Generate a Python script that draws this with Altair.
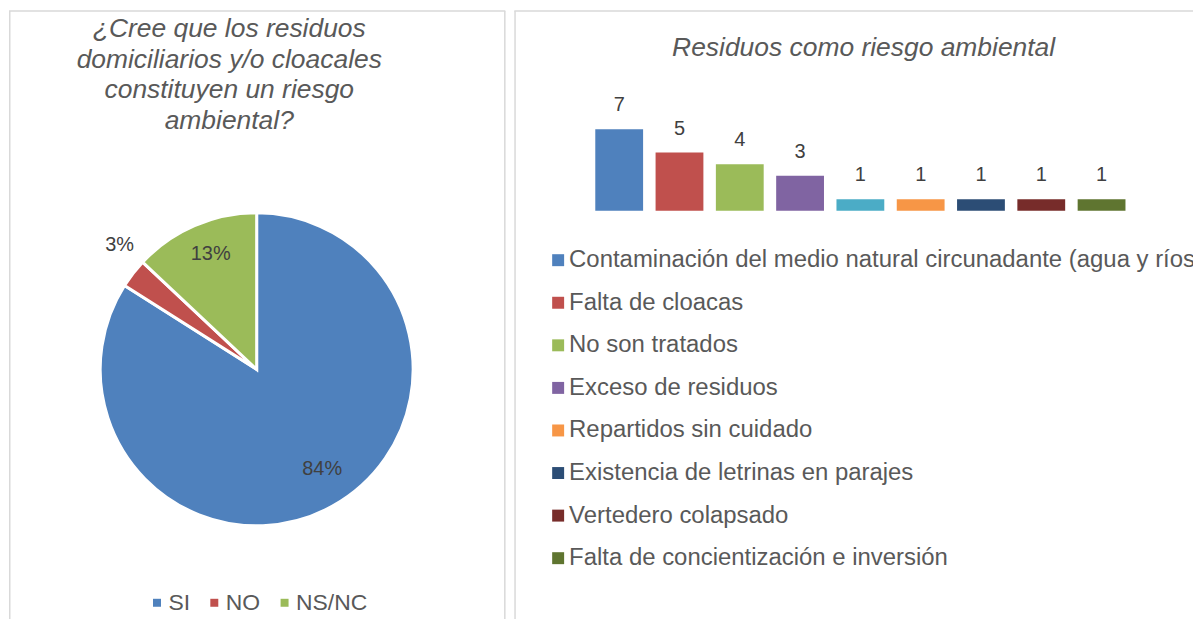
import altair as alt
import pandas as pd

FONT = "Liberation Sans"

# ---------- Panel 1: pie ----------
pie_cats = ["SI", "NO", "NS/NC"]
pie_vals = [84, 3, 13]
pie_colors = ["#4F81BD", "#C0504D", "#9BBB59"]
pie_title = ["¿Cree que los residuos", "domiciliarios y/o cloacales",
             "constituyen un riesgo", "ambiental?"]

# ---------- Panel 2: bars ----------
bar_cats = [
    "Contaminación del medio natural circunadante (agua y ríos)",
    "Falta de cloacas",
    "No son tratados",
    "Exceso de residuos",
    "Otros",
    "Repartidos sin cuidado",
    "Existencia de letrinas en parajes",
    "Vertedero colapsado",
    "Falta de concientización e inversión",
]
bar_vals = [7, 5, 4, 3, 1, 1, 1, 1, 1]
bar_colors = ["#4F81BD", "#C0504D", "#9BBB59", "#8064A2", "#4BACC6",
              "#F79646", "#2C4D75", "#772C2A", "#5F7530"]
legend_cats = [c for c in bar_cats if c != "Otros"]
bar_title = "Residuos como riesgo ambiental"

BORDER = "#D9D9D9"
W1, W2, H = 498, 681, 612
NOVIEW = alt.ViewBackground(stroke="transparent", strokeWidth=0)


def vline(x, y1, y2):
    return alt.Chart(alt.Data(values=[{"k": 0}])).mark_rule(
        color=BORDER, strokeWidth=1.5).encode(
        x=alt.value(x), y=alt.value(y1), y2=alt.value(y2))


def hline(y, x1, x2):
    return alt.Chart(alt.Data(values=[{"k": 0}])).mark_rule(
        color=BORDER, strokeWidth=1.5).encode(
        y=alt.value(y), x=alt.value(x1), x2=alt.value(x2))


# ----- pie panel -----
pie_df = pd.DataFrame({"cat": pie_cats, "valor": pie_vals, "idx": list(range(len(pie_cats)))})
base1 = alt.Chart(pie_df).transform_calculate(etiqueta="datum.valor + '%'")
CX, CY = 248.5, 361.5
theta1 = alt.Theta("valor:Q", stack=True)
order1 = alt.Order("idx:Q")
color1 = alt.Color(
    "cat:N", sort=pie_cats,
    scale=alt.Scale(domain=pie_cats, range=pie_colors),
    legend=alt.Legend(orient="none", direction="horizontal", legendX=137, legendY=584,
                      symbolType="square", symbolSize=64, symbolStrokeWidth=0,
                      labelFontSize=23, labelColor="#595959", labelFont=FONT,
                      labelOffset=0, columnPadding=12.5, padding=0, title=None))

arc = base1.mark_arc(outerRadius=157, stroke="white", strokeWidth=3).encode(
    theta=theta1, color=color1, order=order1, x=alt.value(CX), y=alt.value(CY))


def pie_label(cat, radius, dx, dy):
    return base1.mark_text(radius=radius, dx=dx, dy=dy, fontSize=20, font=FONT,
                           color="#404040", align="center", baseline="middle").encode(
        theta=theta1, order=order1, x=alt.value(CX), y=alt.value(CY),
        text=alt.condition(f"datum.cat == '{cat}'", "etiqueta:N", alt.value("")))


title1 = alt.Chart(alt.Data(values=[{"k": 0}])).mark_text(
    font=FONT, fontSize=26.5, fontStyle="italic", color="#595959", align="center",
    baseline="alphabetic", lineHeight=30.5).encode(
    x=alt.value(221), y=alt.value(28.5), text=alt.value(pie_title))

panel1 = alt.layer(
    vline(0.75, 2, H), vline(W1 - 0.5, 2, H), hline(2, 0, W1),
    arc,
    pie_label("SI", 122, 7, -7),
    pie_label("NS/NC", 125, 3.5, -1),
    pie_label("NO", 185, 8.6, -11),
    title1,
).properties(width=W1, height=H, view=NOVIEW)

# ----- bar panel -----
bar_df = pd.DataFrame({"cat": bar_cats, "valor": bar_vals})
color2 = alt.Color("cat:N", scale=alt.Scale(domain=bar_cats, range=bar_colors), legend=None)
xenc = alt.X("cat:N", sort=bar_cats, axis=None,
             scale=alt.Scale(range=[75, 619.5], paddingInner=0.207, paddingOuter=0.1035))
yenc = alt.Y("valor:Q", axis=None, scale=alt.Scale(domain=[0, 7], range=[202.5, 120.5]))

bars = alt.Chart(bar_df).mark_bar().encode(x=xenc, y=yenc, color=color2)
bar_labels = alt.Chart(bar_df).mark_text(
    dy=-18, baseline="alphabetic", fontSize=20, font=FONT, color="#404040").encode(
    x=xenc, y=yenc, text="valor:Q")
bar_layer = alt.layer(bars, bar_labels)

leg_df = pd.DataFrame({"cat": legend_cats, "orden": list(range(len(legend_cats)))})
yleg = alt.Y("orden:O", axis=None,
             scale=alt.Scale(type="point", range=[252, 551], padding=0))
leg_sq = alt.Chart(leg_df).mark_square(size=144, opacity=1).encode(
    x=alt.value(44), y=yleg, color=color2)
leg_tx = alt.Chart(leg_df).mark_text(
    align="left", baseline="middle", fontSize=24, font=FONT, color="#595959", clip=True).encode(
    x=alt.value(55), y=yleg, text="cat:N")
leg_layer = alt.layer(leg_sq, leg_tx)

title2 = alt.Chart(alt.Data(values=[{"k": 0}])).mark_text(
    font=FONT, fontSize=26.5, fontStyle="italic", color="#595959", align="center",
    baseline="alphabetic").encode(
    x=alt.value(350.5), y=alt.value(47), text=alt.value(bar_title))

panel2 = alt.layer(
    vline(0.75, 2, H), hline(2, 0, W2),
    bar_layer, leg_layer, title2,
).resolve_scale(x="independent", y="independent").properties(width=W2, height=H, view=NOVIEW)

chart = alt.hconcat(panel1, panel2, spacing=7).resolve_scale(
    color="independent"
).properties(
    padding=0, background="white"
).configure_view(strokeWidth=0, stroke="transparent").configure(font=FONT)

chart.save("out.html", embed_options={"renderer": "svg", "actions": False})
